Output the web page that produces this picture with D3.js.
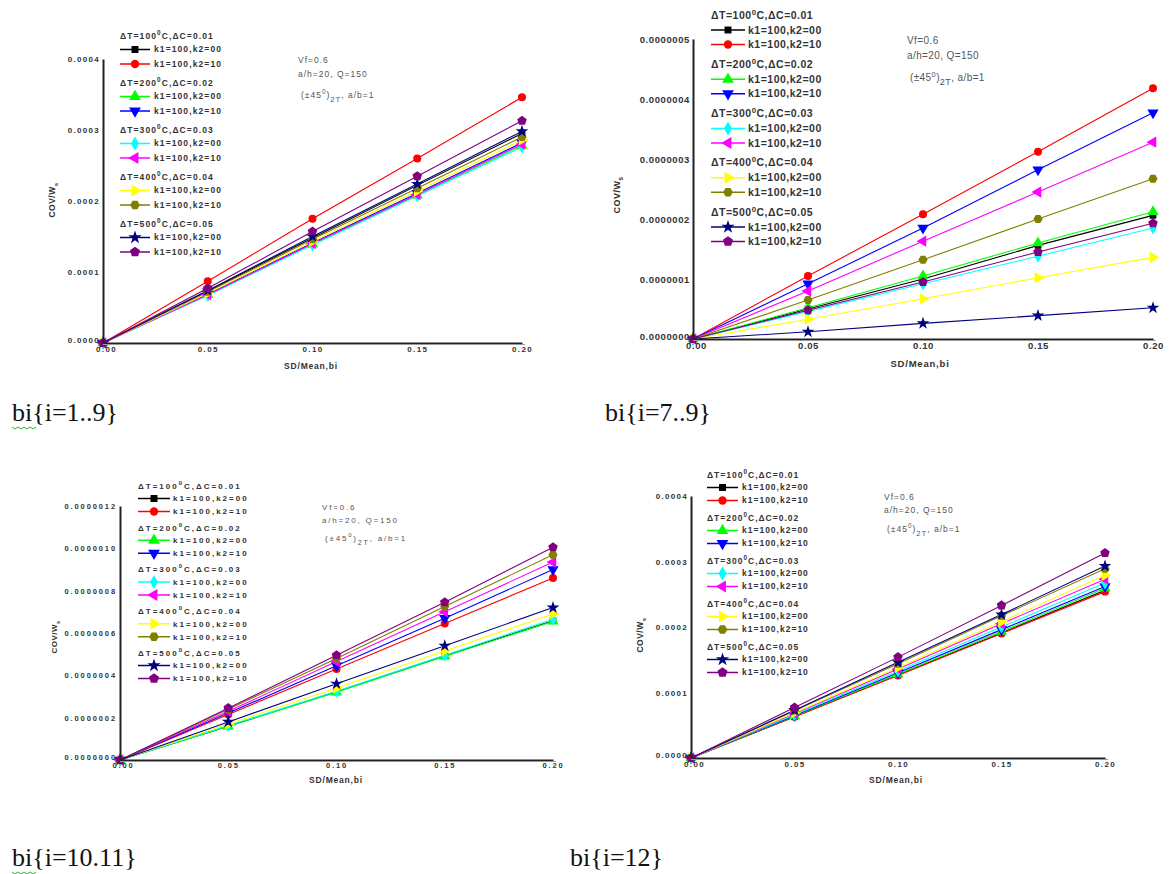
<!DOCTYPE html>
<html><head><meta charset="utf-8">
<script src="https://cdn.jsdelivr.net/npm/d3@7"></script>
<style>body{margin:0;background:#fff}svg{display:block}</style>
</head><body><svg id="c" width="1173" height="874"></svg>
<script>
// ---------- DATA ----------
const xValues = [0, 0.05, 0.10, 0.15, 0.20];
const xTickLabels = ["0.00", "0.05", "0.10", "0.15", "0.20"];
const groupHeaders = [["100", "0.01"], ["200", "0.02"], ["300", "0.03"], ["400", "0.04"], ["500", "0.05"]];
const seriesLabels = ["k1=100,k2=00", "k1=100,k2=10", "k1=100,k2=00", "k1=100,k2=10", "k1=100,k2=00",
                      "k1=100,k2=10", "k1=100,k2=00", "k1=100,k2=10", "k1=100,k2=00", "k1=100,k2=10"];
const captions = ["bi{i=1..9}", "bi{i=7..9}", "bi{i=10.11}", "bi{i=12}"];
const annotationLines = ["Vf=0.6", "a/h=20, Q=150"];
const yTicksA = [0, 1e-4, 2e-4, 3e-4, 4e-4];
const yTickLabelsA = ["0.0000", "0.0001", "0.0002", "0.0003", "0.0004"];
const yTicksB = [0, 1e-7, 2e-7, 3e-7, 4e-7, 5e-7];
const yTickLabelsB = ["0.0000000", "0.0000001", "0.0000002", "0.0000003", "0.0000004", "0.0000005"];
const yTicksC = [0, 2e-7, 4e-7, 6e-7, 8e-7, 10e-7, 12e-7];
const yTickLabelsC = ["0.0000000", "0.0000002", "0.0000004", "0.0000006", "0.0000008", "0.0000010", "0.0000012"];

// series order: black, red, green, blue, cyan, magenta, yellow, olive, navy, purple
const p1Values = [
  [0, 0.73e-4, 1.48e-4, 2.22e-4, 2.95e-4],
  [0, 0.87e-4, 1.75e-4, 2.60e-4, 3.46e-4],
  [0, 0.68e-4, 1.39e-4, 2.08e-4, 2.78e-4],
  [0, 0.69e-4, 1.41e-4, 2.11e-4, 2.82e-4],
  [0, 0.67e-4, 1.38e-4, 2.07e-4, 2.76e-4],
  [0, 0.68e-4, 1.40e-4, 2.09e-4, 2.80e-4],
  [0, 0.70e-4, 1.43e-4, 2.14e-4, 2.86e-4],
  [0, 0.72e-4, 1.46e-4, 2.18e-4, 2.90e-4],
  [0, 0.74e-4, 1.50e-4, 2.24e-4, 2.98e-4],
  [0, 0.77e-4, 1.57e-4, 2.35e-4, 3.13e-4]
];
const p2Values = [
  [0, 0.50e-7, 1.00e-7, 1.56e-7, 2.06e-7],
  [0, 1.05e-7, 2.08e-7, 3.12e-7, 4.18e-7],
  [0, 0.52e-7, 1.05e-7, 1.60e-7, 2.12e-7],
  [0, 0.92e-7, 1.85e-7, 2.82e-7, 3.77e-7],
  [0, 0.46e-7, 0.92e-7, 1.38e-7, 1.85e-7],
  [0, 0.80e-7, 1.63e-7, 2.45e-7, 3.28e-7],
  [0, 0.33e-7, 0.67e-7, 1.02e-7, 1.36e-7],
  [0, 0.65e-7, 1.32e-7, 2.00e-7, 2.67e-7],
  [0, 0.12e-7, 0.26e-7, 0.39e-7, 0.52e-7],
  [0, 0.48e-7, 0.95e-7, 1.45e-7, 1.93e-7]
];
const p3Values = [
  [0, 1.60e-7, 3.22e-7, 4.92e-7, 6.58e-7],
  [0, 2.15e-7, 4.30e-7, 6.45e-7, 8.60e-7],
  [0, 1.60e-7, 3.20e-7, 4.90e-7, 6.55e-7],
  [0, 2.22e-7, 4.45e-7, 6.70e-7, 9.00e-7],
  [0, 1.63e-7, 3.25e-7, 4.95e-7, 6.65e-7],
  [0, 2.30e-7, 4.65e-7, 7.00e-7, 9.35e-7],
  [0, 1.70e-7, 3.40e-7, 5.15e-7, 6.90e-7],
  [0, 2.40e-7, 4.80e-7, 7.25e-7, 9.70e-7],
  [0, 1.80e-7, 3.60e-7, 5.40e-7, 7.20e-7],
  [0, 2.45e-7, 4.95e-7, 7.45e-7, 10.05e-7]
];
const p4Values = [
  [0, 0.63e-4, 1.27e-4, 1.91e-4, 2.56e-4],
  [0, 0.63e-4, 1.26e-4, 1.90e-4, 2.54e-4],
  [0, 0.64e-4, 1.28e-4, 1.93e-4, 2.59e-4],
  [0, 0.65e-4, 1.30e-4, 1.96e-4, 2.62e-4],
  [0, 0.66e-4, 1.33e-4, 2.00e-4, 2.67e-4],
  [0, 0.68e-4, 1.36e-4, 2.05e-4, 2.73e-4],
  [0, 0.69e-4, 1.38e-4, 2.08e-4, 2.79e-4],
  [0, 0.72e-4, 1.44e-4, 2.17e-4, 2.89e-4],
  [0, 0.73e-4, 1.46e-4, 2.19e-4, 2.93e-4],
  [0, 0.77e-4, 1.54e-4, 2.33e-4, 3.13e-4]
];

// ---------- STYLE ----------
const colors = ["#000000", "#ff0000", "#00ff00", "#0000ff", "#00ffff", "#ff00ff", "#ffff00", "#808000", "#000080", "#800080"];
function polySymbol(n, k, rot) {
  return { draw(ctx, size) {
    const r = Math.sqrt(size / (0.5 * n * Math.sin(2 * Math.PI / n))) * k;
    for (let i = 0; i < n; i++) {
      const a = rot + i * 2 * Math.PI / n;
      const x = r * Math.cos(a), y = r * Math.sin(a);
      if (i === 0) ctx.moveTo(x, y); else ctx.lineTo(x, y);
    }
    ctx.closePath();
  }};
}
const symPent = polySymbol(5, 1, -Math.PI / 2);
const symHex = polySymbol(6, 1, 0);
const markers = [
  { t: d3.symbolSquare, s: 44, r: 0 },
  { t: d3.symbolCircle, s: 50, r: 0 },
  { t: d3.symbolTriangle, s: 55, r: 0 },
  { t: d3.symbolTriangle, s: 55, r: 180 },
  { t: d3.symbolDiamond, s: 50, r: 0 },
  { t: d3.symbolTriangle, s: 55, r: -90 },
  { t: d3.symbolTriangle, s: 55, r: 90 },
  { t: symHex, s: 55, r: 0 },
  { t: d3.symbolStar, s: 50, r: 0 },
  { t: symPent, s: 60, r: 0 }
];

const panels = [
  { vals: p1Values, ticks: yTicksA, tl: yTickLabelsA, x0: 103, x1: 522, yb: 343, yt: 59,
    tickFont: 8, tickLS: 1.3,
    leg: { x: 120, y: 36, gap: 47, rows: [0, 13.5, 28], w: 30, tx: 154, fs: 8.5, ls: 1.1 },
    ann: { x: 298, y: 60, ys: [0, 14, 35], fs: 8.5, ls: 1 },
    yl: { x: 55, y: 200, fs: 8.5 }, xl: { x: 311, y: 369, fs: 8.5 } },
  { vals: p2Values, ticks: yTicksB, tl: yTickLabelsB, x0: 693, x1: 1153, yb: 339, yt: 39,
    tickFont: 9.5, tickLS: 0.6,
    leg: { x: 711, y: 15, gap: 49.25, rows: [0, 15, 29.5], w: 34, tx: 748, fs: 10.5, ls: 0.5 },
    ann: { x: 907, y: 40, ys: [0, 15, 37], fs: 10, ls: 0.4 },
    yl: { x: 620, y: 195, fs: 9 }, xl: { x: 920, y: 367, fs: 9.5 } },
  { vals: p3Values, ticks: yTicksC, tl: yTickLabelsC, x0: 120, x1: 553, yb: 760, yt: 506,
    tickFont: 7.5, tickLS: 1.9,
    leg: { x: 138, y: 486, gap: 41.75, rows: [0, 12.5, 25.5], w: 32, tx: 173, fs: 8, ls: 2 },
    ann: { x: 322, y: 507, ys: [0, 13, 31], fs: 8, ls: 1.8 },
    yl: { x: 57, y: 637, fs: 8 }, xl: { x: 336, y: 783, fs: 8.5 } },
  { vals: p4Values, ticks: yTicksA, tl: yTickLabelsA, x0: 691, x1: 1105, yb: 758, yt: 496,
    tickFont: 8, tickLS: 1.3,
    leg: { x: 707, y: 475, gap: 43, rows: [0, 12.5, 25.5], w: 31, tx: 742, fs: 8.5, ls: 1 },
    ann: { x: 884, y: 497, ys: [0, 13, 32], fs: 8.5, ls: 1 },
    yl: { x: 643, y: 635, fs: 8.5 }, xl: { x: 896, y: 783, fs: 8.5 } }
];
const captionPos = [{ x: 12, y: 421, squig: true }, { x: 605, y: 421 }, { x: 12, y: 866, squig: true }, { x: 570, y: 866 }];

// ---------- DRAW ----------
const svg = d3.select("#c");
const txtCol = "#333";
const font = "'Liberation Sans', Arial, sans-serif";

panels.forEach((p, pi) => {
  const g = svg.append("g");
  const x = d3.scaleLinear().domain([0, 0.20]).range([p.x0, p.x1]);
  const y = d3.scaleLinear().domain([0, p.ticks[p.ticks.length - 1]]).range([p.yb, p.yt]);

  // series lines
  const line = d3.line().x((d, i) => x(xValues[i])).y(d => y(d));
  p.vals.forEach((s, si) => {
    g.append("path").attr("d", line(s)).attr("fill", "none")
      .attr("stroke", colors[si]).attr("stroke-width", 1.1);
  });
  p.vals.forEach((s, si) => {
    const m = markers[si];
    const sym = d3.symbol().type(m.t).size(m.s);
    g.selectAll(null).data(s).enter().append("path")
      .attr("d", sym)
      .attr("transform", (d, i) => `translate(${x(xValues[i])},${y(d)}) rotate(${m.r})`)
      .attr("fill", colors[si]);
  });

  // axes
  const yAxis = d3.axisLeft(y).tickValues(p.ticks).tickFormat((d, i) => p.tl[i]).tickSize(0).tickPadding(3);
  const ya = g.append("g").attr("transform", `translate(${p.x0},0)`).call(yAxis);
  const xAxis = d3.axisBottom(x).tickValues(xValues).tickFormat((d, i) => xTickLabels[i]).tickSize(0).tickPadding(3);
  const xa = g.append("g").attr("transform", `translate(0,${p.yb})`).call(xAxis);
  [ya, xa].forEach(a => {
    a.select(".domain").attr("stroke", "#222").attr("stroke-width", 2);
    a.selectAll("text").attr("font-family", font).attr("font-weight", "bold")
      .attr("font-size", p.tickFont).attr("letter-spacing", p.tickLS).attr("fill", txtCol);
  });
  // nudge the zero labels apart a little at the origin
  ya.selectAll(".tick").filter(d => d === 0).select("text").attr("y", -3);
  xa.selectAll(".tick").filter(d => d === 0).select("text").attr("x", 3);
  xa.append("line").attr("x1", p.x0).attr("x2", p.x1 + 3).attr("y1", 1.5).attr("y2", 1.5)
    .attr("stroke", "#999").attr("stroke-width", 1);

  // axis titles
  const yt = g.append("text").attr("transform", `translate(${p.yl.x},${p.yl.y}) rotate(-90)`)
    .attr("text-anchor", "middle").attr("font-family", font).attr("font-weight", "bold")
    .attr("font-size", p.yl.fs).attr("fill", txtCol).attr("letter-spacing", 0.5);
  yt.append("tspan").text("COV/W");
  yt.append("tspan").attr("dy", 3).attr("font-size", p.yl.fs * 0.7).text("s");
  g.append("text").attr("x", p.xl.x).attr("y", p.xl.y).attr("text-anchor", "middle")
    .attr("font-family", font).attr("font-weight", "bold").attr("font-size", p.xl.fs)
    .attr("letter-spacing", 0.8).attr("fill", txtCol).text("SD/Mean,bi");

  // legend
  const L = p.leg;
  groupHeaders.forEach((h, gi) => {
    const gy = L.y + gi * L.gap;
    const ht = g.append("text").attr("x", L.x).attr("y", gy).attr("dy", "0.35em")
      .attr("font-family", font).attr("font-weight", "bold").attr("font-size", L.fs)
      .attr("letter-spacing", L.ls).attr("fill", txtCol);
    ht.append("tspan").text("ΔT=" + h[0]);
    ht.append("tspan").attr("dy", -4).attr("font-size", L.fs * 0.75).text("0");
    ht.append("tspan").attr("dy", 4).text("C,ΔC=" + h[1]);
    [0, 1].forEach(k => {
      const si = gi * 2 + k;
      const ry = gy + L.rows[k + 1];
      g.append("line").attr("x1", L.x).attr("x2", L.x + L.w).attr("y1", ry).attr("y2", ry)
        .attr("stroke", colors[si]).attr("stroke-width", 1.5);
      const m = markers[si];
      g.append("path").attr("d", d3.symbol().type(m.t).size(m.s * 1.1))
        .attr("transform", `translate(${L.x + L.w / 2},${ry}) rotate(${m.r})`).attr("fill", colors[si]);
      g.append("text").attr("x", L.tx).attr("y", ry).attr("dy", "0.35em")
        .attr("font-family", font).attr("font-weight", "bold").attr("font-size", L.fs)
        .attr("letter-spacing", L.ls).attr("fill", txtCol).text(seriesLabels[si]);
    });
  });

  // annotation
  const A = p.ann;
  const annAttr = sel => sel.attr("font-family", font).attr("font-size", A.fs)
    .attr("letter-spacing", A.ls).attr("fill", "#555").attr("dy", "0.35em");
  annotationLines.forEach((t, k) => {
    annAttr(g.append("text").attr("x", A.x).attr("y", A.y + A.ys[k])).text(t);
  });
  const a3 = annAttr(g.append("text").attr("x", A.x + 3).attr("y", A.y + A.ys[2]));
  a3.append("tspan").text("(±45");
  a3.append("tspan").attr("dy", -4).attr("font-size", A.fs * 0.75).text("0");
  a3.append("tspan").attr("dy", 4).text(")");
  a3.append("tspan").attr("dy", 4).attr("font-size", A.fs * 0.9).text("2T");
  a3.append("tspan").attr("dy", -4).text(", a/b=1");
});

// captions
captions.forEach((c, i) => {
  const cp = captionPos[i];
  svg.append("text").attr("x", cp.x).attr("y", cp.y)
    .attr("font-family", "'Liberation Serif', 'Times New Roman', serif")
    .attr("font-size", 26).attr("fill", "#111").text(c);
  if (cp.squig) {
    const pts = d3.range(0, 9).map(k => [cp.x + k * 3, cp.y + 6 + (k % 2 ? 2 : 0)]);
    svg.append("path").attr("d", d3.line()(pts)).attr("fill", "none")
      .attr("stroke", "#3a3").attr("stroke-width", 1);
  }
});
</script></body></html>
